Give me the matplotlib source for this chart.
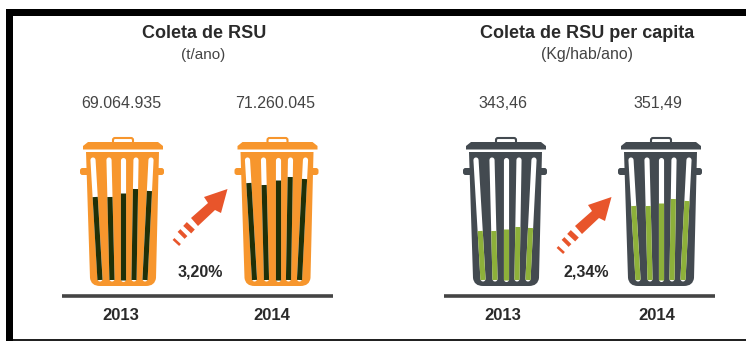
import matplotlib
matplotlib.use("Agg")
import matplotlib.pyplot as plt
from matplotlib.patches import Polygon, PathPatch, Rectangle, FancyBboxPatch
from matplotlib.path import Path

plt.rcParams['font.family'] = ['Liberation Sans', 'DejaVu Sans']

YEARS = ["2013", "2014"]
COLETA_LABELS = ["69.064.935", "71.260.045"]
PER_CAPITA_LABELS = ["343,46", "351,49"]
COLETA_PCT = "3,20%"
PER_CAPITA_PCT = "2,34%"

# waste level in each of the five slots of a bin
COLETA_2013 = [82, 82, 86, 90, 88]
COLETA_2014 = [96, 94, 99, 102, 100]
PER_CAPITA_2013 = [48, 48, 50, 52, 51]
PER_CAPITA_2014 = [73, 73, 76, 80, 78]

ORANGE = "#F7962D"
SLATE = "#434A50"
DARK_FILL = "#1F3008"
GREEN_FILL = "#8DB03A"
ARROW = "#E8552B"
TEXT = "#2A2A2A"

SLOT_TOP = 160
SLOT_BASE = 279
SLOTS_TOP_X = [7, 23, 37, 50, 65]
SLOTS_BASE_X = [14, 26, 37, 48, 59]


def draw_bin(ax, x0, body, fill, levels):
    # x0 is the left edge of the body
    ax.add_patch(FancyBboxPatch((x0 - 6, 168), 84, 7, boxstyle="round,pad=0,rounding_size=2.5",
                                facecolor=body, edgecolor="none"))
    verts = [(x0, 152), (x0 + 73, 152), (x0 + 70, 278), (x0 + 69, 286), (x0 + 60, 286),
             (x0 + 14, 286), (x0 + 5, 286), (x0 + 4, 278), (x0, 152)]
    codes = [Path.MOVETO, Path.LINETO, Path.LINETO, Path.CURVE3, Path.CURVE3,
             Path.LINETO, Path.CURVE3, Path.CURVE3, Path.CLOSEPOLY]
    ax.add_patch(PathPatch(Path(verts, codes), facecolor=body, lw=0))
    # lid and handle
    ax.add_patch(Polygon([(x0 - 3, 149.5), (x0 - 3, 146), (x0 + 2, 142), (x0 + 72, 142),
                          (x0 + 77, 146), (x0 + 77, 149.5)], color=body, lw=0))
    ax.add_patch(FancyBboxPatch((x0 + 27, 138), 20, 6, boxstyle="round,pad=0,rounding_size=2",
                                facecolor="white", edgecolor=body, lw=1.5))
    ax.add_patch(Rectangle((x0 + 25, 142), 24, 2, color=body, lw=0))
    for i, level in enumerate(levels):
        xt = x0 + SLOTS_TOP_X[i]
        xb = x0 + SLOTS_BASE_X[i]
        ax.plot([xt, xb], [SLOT_TOP, SLOT_BASE], color="white", lw=3.7, solid_capstyle="round")
        frac = level / (SLOT_BASE - SLOT_TOP)
        ax.plot([xb, xb + (xt - xb) * frac], [SLOT_BASE + 1, SLOT_BASE - level],
                color=fill, lw=3.7, solid_capstyle="butt")


def draw_arrow(ax, dx, dy):
    outline = [(191, 218), (208, 203), (204, 197), (227.5, 189), (221, 213), (215, 210), (198, 226)]
    ax.add_patch(Polygon([(x + dx, y + dy) for x, y in outline], color=ARROW, lw=0))
    # tail stripes get thinner away from the shaft
    stripes = [((185, 224), (193, 231.5), 3.8), ((179, 230.5), (186, 237.5), 2.8), ((173.5, 239), (180, 245), 1.9)]
    for (x1, y1), (x2, y2), w in stripes:
        ax.plot([x1 + dx, x2 + dx], [y1 + dy, y2 + dy], color=ARROW, lw=w, solid_capstyle="butt")


def main():
    fig = plt.figure(figsize=(7.46, 3.41), dpi=100)
    ax = fig.add_axes([0, 0, 1, 1])
    ax.set_xlim(0, 746)
    ax.set_ylim(341, 0)
    ax.axis("off")

    # black frame, open on the right
    ax.add_patch(Rectangle((6, 9), 740, 7, color="black", lw=0))
    ax.add_patch(Rectangle((6, 9), 7, 332, color="black", lw=0))
    ax.add_patch(Rectangle((13, 339), 733, 2, color="#222222", lw=0))

    ax.text(204, 34, "Coleta de RSU", fontsize=13, fontweight="bold", color=TEXT, ha="center", va="center")
    ax.text(203, 54.5, "(t/ano)", fontsize=11, color="#444444", ha="center", va="center")
    ax.text(587, 34, "Coleta de RSU per capita", fontsize=13, fontweight="bold", color=TEXT, ha="center", va="center")
    ax.text(587, 54.5, "(Kg/hab/ano)", fontsize=11.4, color="#444444", ha="center", va="center")

    ax.text(121, 103.5, COLETA_LABELS[0], fontsize=11.5, color="#444444", ha="center", va="center")
    ax.text(275, 103.5, COLETA_LABELS[1], fontsize=11.5, color="#444444", ha="center", va="center")
    ax.text(503, 103.5, PER_CAPITA_LABELS[0], fontsize=11.5, color="#444444", ha="center", va="center")
    ax.text(658, 103.5, PER_CAPITA_LABELS[1], fontsize=11.5, color="#444444", ha="center", va="center")

    draw_bin(ax, 86, ORANGE, DARK_FILL, COLETA_2013)
    draw_bin(ax, 240.5, ORANGE, DARK_FILL, COLETA_2014)
    draw_bin(ax, 469, SLATE, GREEN_FILL, PER_CAPITA_2013)
    draw_bin(ax, 624, SLATE, GREEN_FILL, PER_CAPITA_2014)

    draw_arrow(ax, 0, 0)
    draw_arrow(ax, 384, 8)

    ax.text(200, 272, COLETA_PCT, fontsize=11.5, fontweight="bold", color=TEXT, ha="center", va="center")
    ax.text(586, 272, PER_CAPITA_PCT, fontsize=11.5, fontweight="bold", color=TEXT, ha="center", va="center")

    ax.plot([62, 333], [296, 296], color="#444444", lw=2.6, solid_capstyle="butt")
    ax.plot([444, 715], [296, 296], color="#444444", lw=2.6, solid_capstyle="butt")

    for x, year in zip([121, 272, 503, 657], YEARS * 2):
        ax.text(x, 315, year, fontsize=12, fontweight="bold", color=TEXT, ha="center", va="center")

    fig.savefig("out.png", dpi=100)
    plt.close(fig)


main()
